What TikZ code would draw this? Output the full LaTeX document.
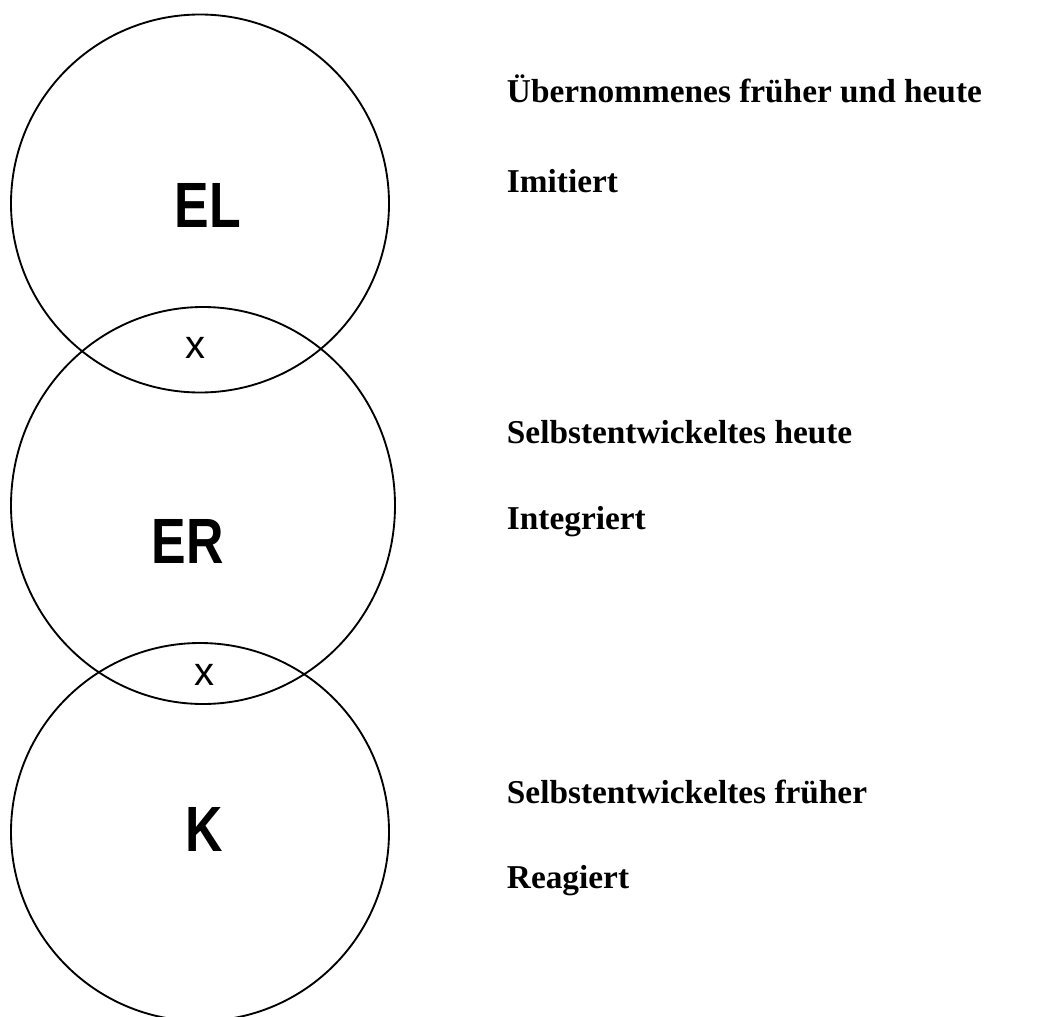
\documentclass[tikz,border=0pt]{standalone}
\usepackage{fontspec}
\setmainfont{Liberation Serif}
\newfontfamily\labelfont{Liberation Sans}

\begin{document}
\begin{tikzpicture}[x=0.75pt,y=-0.75pt,line width=1.4pt]
    \tikzstyle{ring}=[draw=black]
    \tikzstyle{big label}=[font=\labelfont\bfseries\fontsize{48}{48}\selectfont,inner sep=0pt,anchor=base]
    \tikzstyle{cross}=[font=\labelfont\fontsize{30}{30}\selectfont,inner sep=0pt,anchor=base]
    \tikzstyle{annot}=[font=\bfseries\fontsize{25}{30}\selectfont,inner sep=0pt,anchor=base west]

    \useasboundingbox (0,0) rectangle (1048,1016);
    \clip (0,0) rectangle (1048,1016);

    % Draw the three circles
    \draw[ring] (200,203.5) circle [radius=189];
    \draw[ring] (203,505.5) ellipse [x radius=192, y radius=198.5];
    \draw[ring] (200,832) circle [radius=189];

    % Labels inside the circles
    \node[big label] (EL) at (208,228) {\scalebox{0.81}[1]{EL}};
    \node[big label] (ER) at (187.5,563) {\scalebox{0.81}[1]{ER}};
    \node[big label] (K) at (204,851) {\scalebox{0.81}[1]{K}};

    % Marks in the overlaps
    \node[cross] (x-1) at (195,358) {x};
    \node[cross] (x-2) at (204,685) {x};

    % Annotate the circles
    \foreach \name / \y / \txt in {A-1/103/Übernommenes früher und heute, A-2/193/Imitiert,
        B-1/443/Selbstentwickeltes heute, B-2/529/Integriert,
        C-1/803/Selbstentwickeltes früher, C-2/888/Reagiert}
        \node[annot] (\name) at (506,\y) {\txt};
\end{tikzpicture}
\end{document}
